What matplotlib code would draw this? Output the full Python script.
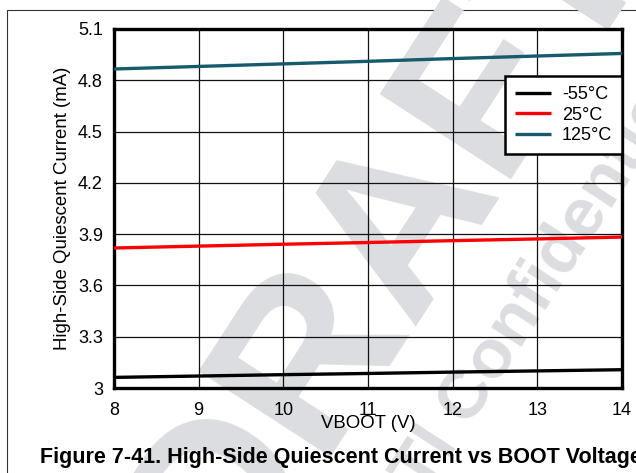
import matplotlib
matplotlib.use("Agg")
import matplotlib.pyplot as plt
from matplotlib.patches import Rectangle

plt.rcParams['font.family'] = ['Liberation Sans', 'DejaVu Sans']

vboot = [8, 9, 10, 11, 12, 13, 14]
i_m55 = [3.062, 3.070, 3.078, 3.085, 3.093, 3.100, 3.107]
i_25 = [3.819, 3.830, 3.841, 3.851, 3.862, 3.872, 3.883]
i_125 = [4.866, 4.881, 4.896, 4.911, 4.927, 4.942, 4.957]
series_labels = ['-55°C', '25°C', '125°C']
series_colors = ['#000000', '#ff0000', '#175a6b']
xticks = [8, 9, 10, 11, 12, 13, 14]
yticks = [3, 3.3, 3.6, 3.9, 4.2, 4.5, 4.8, 5.1]
ytick_labels = ['3', '3.3', '3.6', '3.9', '4.2', '4.5', '4.8', '5.1']

W, H = 636, 473
fig = plt.figure(figsize=(W / 100, H / 100), dpi=100)

# outer border
fig.patches.append(Rectangle((7 / W, -0.1), 1.2, 1 - 10 / H + 0.1, transform=fig.transFigure,
                             fill=False, edgecolor='#333333', linewidth=0.8, zorder=-5))

# watermark
wm = '#dcdde0'
fig.text(0.61, 0.50, 'DRAFT', rotation=57, fontsize=165, fontweight='bold', color=wm,
         ha='center', va='center', zorder=-2)
fig.text(0.85, 0.40, 'TI Confidential', rotation=57, fontsize=50, fontweight='bold', color=wm,
         ha='center', va='center', zorder=-2)

ax = fig.add_axes([114 / W, 1 - 388 / H, (622 - 114) / W, (388 - 29) / H])
ax.patch.set_visible(False)

for y, lab, c in zip([i_m55, i_25, i_125], series_labels, series_colors):
    ax.plot(vboot, y, color=c, linewidth=2.4, label=lab, solid_capstyle='butt', zorder=3)

ax.set_xlim(8, 14)
ax.set_ylim(3, 5.1)
ax.set_xticks(xticks)
ax.set_yticks(yticks)
ax.set_yticklabels(ytick_labels)
ax.tick_params(axis='x', length=0, labelsize=13, pad=10)
ax.tick_params(axis='y', length=0, labelsize=13, pad=8)
ax.grid(True, color='#111111', linewidth=0.9)
for s in ax.spines.values():
    s.set_linewidth(2.4)

ax.set_xlabel('VBOOT (V)', fontsize=13.4, labelpad=-3)
ax.set_ylabel('High-Side Quiescent Current (mA)', fontsize=13.4, labelpad=5)

leg = ax.legend(loc='upper right', bbox_to_anchor=(1.0, 1 - (76 - 29) / 359), borderaxespad=0,
                fontsize=13, frameon=True, fancybox=False, handlelength=2.0,
                labelspacing=0.2, borderpad=0.55, handletextpad=0.6)
leg.get_frame().set_edgecolor('black')
leg.get_frame().set_linewidth(1.8)
leg.get_frame().set_alpha(1)

fig.text(40 / W, 1 - 457 / H, 'Figure 7-41. High-Side Quiescent Current vs BOOT Voltage',
         fontsize=15.5, fontweight='bold', ha='left', va='center')

fig.savefig('out.png', dpi=100)
